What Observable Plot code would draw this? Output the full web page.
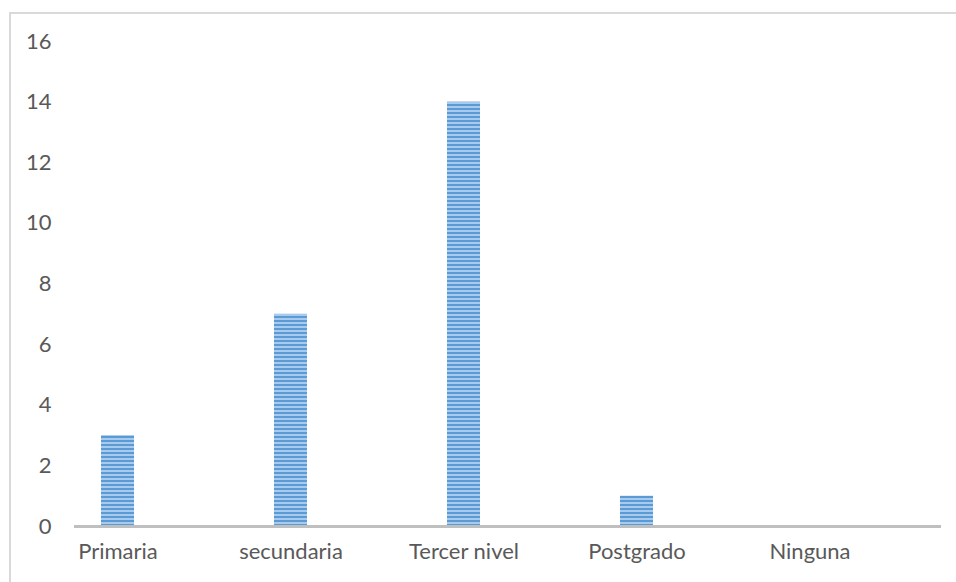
<!DOCTYPE html>
<html>
<head>
<meta charset="utf-8">
<script src="https://cdn.jsdelivr.net/npm/d3@7"></script>
<script src="https://cdn.jsdelivr.net/npm/@observablehq/plot@0.6"></script>
<style>
  html, body { margin: 0; padding: 0; background: #fff; }
  #wrap { position: relative; width: 956px; height: 582px; overflow: hidden; }
  #frame { position: absolute; left: 9px; top: 12px; width: 2000px; height: 2000px;
           border-left: 2px solid #d9d9d9; border-top: 2px solid #d9d9d9; box-sizing: border-box; }
  #chart { position: absolute; left: 0; top: 0; }
</style>
</head>
<body>
<div id="wrap"><div id="frame"></div><div id="chart"></div></div>
<script>
const categories = ["Primaria", "secundaria", "Tercer nivel", "Postgrado", "Ninguna"];
const values = [3, 7, 14, 1, 0];
const yTicks = [0, 2, 4, 6, 8, 10, 12, 14, 16];

const data = categories.map((c, i) => ({category: c, value: values[i]}));

const chart = Plot.plot({
  width: 956,
  height: 582,
  marginLeft: 74,
  marginRight: 15,
  marginTop: 41,
  marginBottom: 56,
  style: {fontFamily: "Lato, sans-serif", fontSize: "22px", color: "#595959", background: "transparent"},
  x: {domain: categories, range: [29.8, 896.8], paddingInner: 0.81, paddingOuter: 0.405, label: null},
  y: {domain: [0, 16], ticks: yTicks, label: null},
  marks: [
    Plot.axisY({ticks: yTicks, tickSize: 0, tickPadding: 23, fontSize: 22, color: "#595959"}),
    Plot.axisX({tickSize: 0, tickPadding: 17, fontSize: 22, color: "#595959"}),
    Plot.barY(data, {x: "category", y: "value", fill: "url(#stripes)"}),
    Plot.ruleY([0], {stroke: "#bfbfbf", strokeWidth: 3})
  ]
});

const svg = d3.select(chart);
const defs = svg.insert("defs", ":first-child");
const pat = defs.append("pattern").attr("id", "stripes").attr("patternUnits", "userSpaceOnUse")
  .attr("width", 8).attr("height", 4);
pat.append("rect").attr("width", 8).attr("height", 4).attr("fill", "#a8caec");
pat.append("rect").attr("y", 0).attr("width", 8).attr("height", 2).attr("fill", "#5b9bd5");
document.getElementById("chart").appendChild(chart);
</script>
</body>
</html>
